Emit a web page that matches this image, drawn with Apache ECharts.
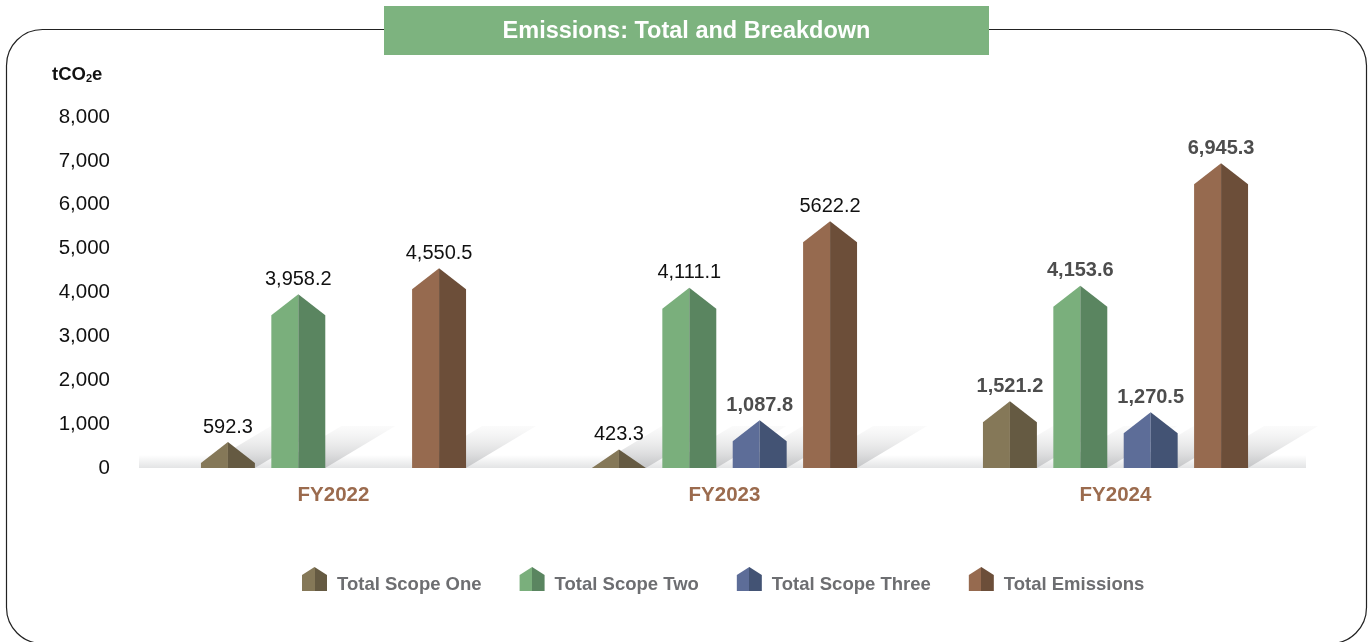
<!DOCTYPE html>
<html>
<head>
<meta charset="utf-8">
<title>Emissions: Total and Breakdown</title>
<script src="https://cdn.jsdelivr.net/npm/echarts@6/dist/echarts.min.js"></script>
<style>
  html, body { margin: 0; padding: 0; background: #fff; }
  #chart { width: 1369px; height: 642px; }
</style>
</head>
<body>
<div id="chart"></div>
<script>
"use strict";
// values
var years = ["FY2022", "FY2023", "FY2024"];
var seriesNames = ["Total Scope One", "Total Scope Two", "Total Scope Three", "Total Emissions"];
var scopeOne = [592.3, 423.3, 1521.2];
var scopeTwo = [3958.2, 4111.1, 4153.6];
var scopeThree = ["-", 1087.8, 1270.5];
var totalEmissions = [4550.5, 5622.2, 6945.3];
// the labels as printed (5622.2 has no comma in the original)
var scopeOneLabels = ["592.3", "423.3", "1,521.2"];
var scopeTwoLabels = ["3,958.2", "4,111.1", "4,153.6"];
var scopeThreeLabels = ["", "1,087.8", "1,270.5"];
var totalLabels = ["4,550.5", "5622.2", "6,945.3"];
var yTicks = { min: 0, max: 8000, interval: 1000 };

// styles
var FONT = "'Liberation Sans', Arial, Helvetica, sans-serif";
var lightColors = ["#857858", "#7aaf7c", "#5d6d98", "#966a4f"];
var darkColors = ["#655a42", "#5a8560", "#435374", "#6c4e39"];
// bold grey labels vs plain black labels, per year
var labelBold = [false, false, true];

function splitColor(i) {
    return new echarts.graphic.LinearGradient(0, 0, 1, 0, [
        { offset: 0, color: lightColors[i] },
        { offset: 0.5, color: lightColors[i] },
        { offset: 0.5, color: darkColors[i] },
        { offset: 1, color: darkColors[i] }
    ]);
}

function barRenderer(sIdx, labels) {
    return function (params, api) {
        var cat = api.value(0), val = api.value(1);
        if (val == null || isNaN(val)) {
            return;
        }
        var band = api.size([1, 0])[0];
        var w = band * 0.138;
        var step = band * 0.18;
        var base = api.coord([cat, 0]);
        var top = api.coord([cat, val]);
        var cx = base[0] + (sIdx - 1.5) * step;
        var x0 = cx - w / 2, x1 = cx + w / 2;
        var y0 = base[1], yp = top[1];
        var roof = Math.min(21, y0 - yp);
        var ys = yp + roof;
        var dx = 70, dh = 42;
        var bold = labelBold[cat] || (cat === 1 && sIdx === 2);
        return {
            type: "group",
            children: [{
                // cast shadow on the floor
                type: "polygon",
                z2: -5,
                shape: { points: [[x0, y0], [x1, y0], [x1 + dx, y0 - dh], [x0 + dx, y0 - dh]] },
                style: {
                    fill: new echarts.graphic.LinearGradient(0, 1, 0, 0, [
                        { offset: 0, color: "#c4c5c7" },
                        { offset: 1, color: "rgba(245,245,245,0.4)" }
                    ])
                }
            }, {
                type: "polygon",
                z2: 10,
                shape: { points: [[x0, y0], [x0, ys], [cx, yp], [cx, y0]] },
                style: { fill: lightColors[sIdx] }
            }, {
                type: "polygon",
                z2: 10,
                shape: { points: [[cx, y0], [cx, yp], [x1, ys], [x1, y0]] },
                style: { fill: darkColors[sIdx] }
            }, {
                type: "text",
                z2: 20,
                style: {
                    text: labels[cat],
                    x: cx,
                    y: yp - 15,
                    align: "center",
                    verticalAlign: "middle",
                    fontFamily: FONT,
                    fontSize: 20,
                    fontWeight: bold ? "bold" : "normal",
                    fill: bold ? "#4d4d4d" : "#111111"
                }
            }]
        };
    };
}

function toPairs(arr) {
    return arr.map(function (v, i) { return [i, v]; });
}

var chart = echarts.init(document.getElementById("chart"));
var valueSets = [scopeOne, scopeTwo, scopeThree, totalEmissions];
var labelSets = [scopeOneLabels, scopeTwoLabels, scopeThreeLabels, totalLabels];

var series = [{
    // floor band under the bars
    type: "custom",
    name: "floor",
    silent: true,
    data: [[0, 0]],
    renderItem: function (params, api) {
        var cs = params.coordSys;
        var y0 = api.coord([0, 0])[1];
        return {
            type: "rect",
            z2: -10,
            shape: { x: cs.x + 1, y: y0 - 13, width: cs.width - 6, height: 13 },
            style: {
                fill: new echarts.graphic.LinearGradient(0, 0, 0, 1, [
                    { offset: 0, color: "#ffffff" },
                    { offset: 1, color: "#e3e4e5" }
                ])
            }
        };
    }
}];
valueSets.forEach(function (vals, i) {
    series.push({
        type: "custom",
        name: seriesNames[i],
        itemStyle: { color: splitColor(i) },
        data: toPairs(vals),
        encode: { x: 0, y: 1 },
        renderItem: barRenderer(i, labelSets[i])
    });
});

var option = {
    animation: false,
    backgroundColor: "#ffffff",
    textStyle: { fontFamily: FONT },
    grid: { left: 138, right: 58, top: 117, bottom: 174 },
    xAxis: {
        type: "category",
        data: years,
        axisLine: { show: false },
        axisTick: { show: false },
        axisLabel: {
            margin: 17,
            fontFamily: FONT,
            fontSize: 20.5,
            fontWeight: "bold",
            color: "#9b6b4e"
        }
    },
    yAxis: {
        type: "value",
        min: yTicks.min,
        max: yTicks.max,
        interval: yTicks.interval,
        splitLine: { show: false },
        axisLine: { show: false },
        axisTick: { show: false },
        axisLabel: {
            margin: 28,
            fontFamily: FONT,
            fontSize: 20.5,
            color: "#111111",
            formatter: function (v) { return v.toLocaleString("en-US"); }
        }
    },
    legend: {
        left: 302,
        top: 567,
        padding: 0,
        itemWidth: 25,
        itemHeight: 24,
        itemGap: 38,
        icon: "path://M0,8L12.5,0L25,8L25,24L0,24Z",
        data: seriesNames.map(function (n, i) {
            return { name: n, itemStyle: { color: splitColor(i) } };
        }),
        formatter: "{t|{name}}",
        textStyle: {
            fontFamily: FONT,
            fontSize: 18.5,
            fontWeight: "bold",
            color: "#6d6e71",
            rich: {
                t: {
                    fontFamily: FONT,
                    fontSize: 18.5,
                    fontWeight: "bold",
                    color: "#6d6e71",
                    padding: [12, 0, 0, 5]
                }
            }
        }
    },
    graphic: [{
        type: "rect",
        z: 0,
        silent: true,
        shape: { x: 6.5, y: 29.5, width: 1360, height: 614, r: 36 },
        style: { fill: null, stroke: "#222222", lineWidth: 1.2 }
    }, {
        type: "rect",
        z: 10,
        silent: true,
        shape: { x: 384, y: 6, width: 605, height: 49 },
        style: { fill: "#7db37f" }
    }, {
        type: "text",
        z: 11,
        silent: true,
        style: {
            text: "Emissions: Total and Breakdown",
            x: 686.5,
            y: 31.5,
            align: "center",
            verticalAlign: "middle",
            fontFamily: FONT,
            fontSize: 23.5,
            fontWeight: "bold",
            fill: "#ffffff"
        }
    }, {
        type: "text",
        z: 11,
        silent: true,
        style: {
            text: "{a|tCO}{b|2}{a|e}",
            x: 52,
            y: 75,
            verticalAlign: "middle",
            rich: {
                a: { fontFamily: FONT, fontSize: 18.5, fontWeight: "bold", fill: "#111111", color: "#111111" },
                b: { fontFamily: FONT, fontSize: 11, fontWeight: "bold", fill: "#111111", color: "#111111", padding: [8, 0, 0, 0] }
            }
        }
    }],
    series: series
};
chart.setOption(option);
</script>
</body>
</html>
